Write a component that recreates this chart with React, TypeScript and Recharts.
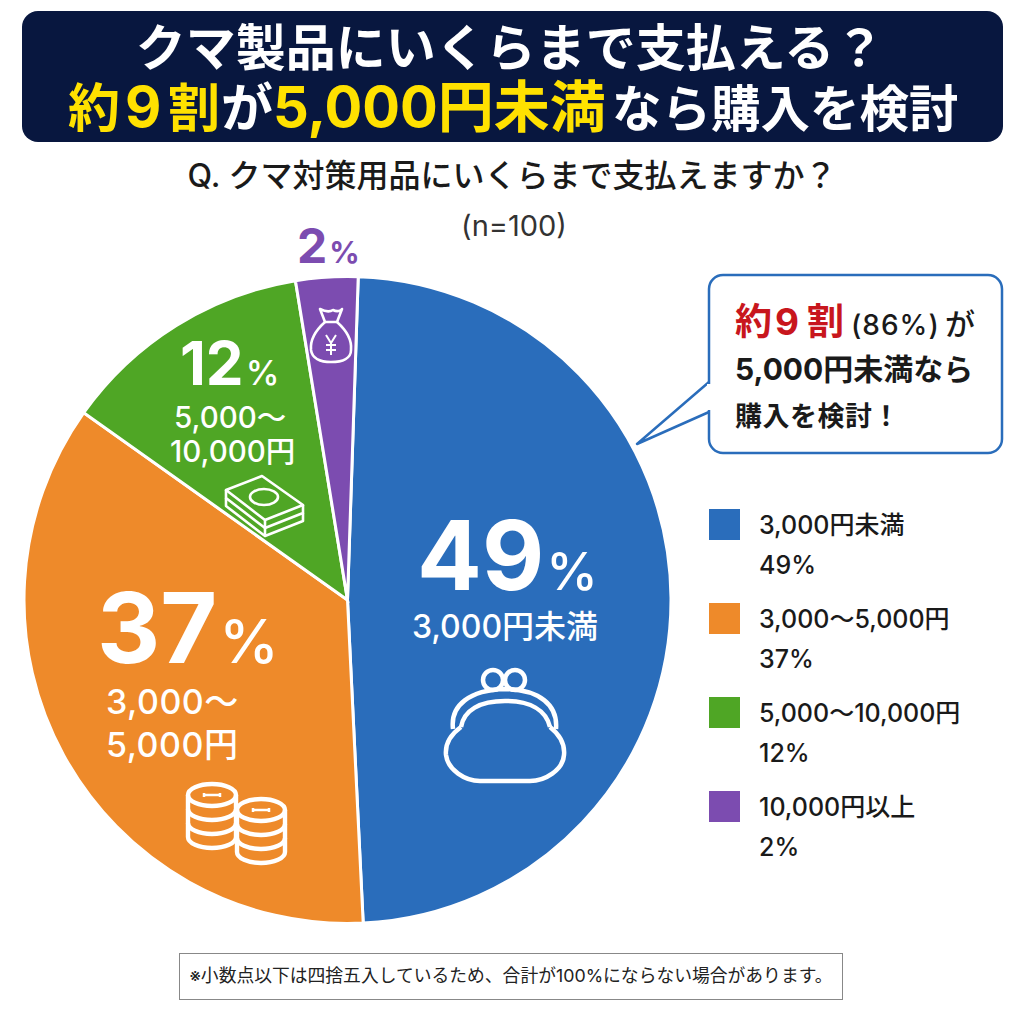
import React from "react";
import { PieChart, Pie, Legend } from "recharts";

const categories = ["3,000円未満", "3,000〜5,000円", "5,000〜10,000円", "10,000円以上"];
// Percentages as printed on the reference.
const values = [49, 37, 12, 2];
// Wedge sizes as measured from the reference: its slices are not drawn exactly to the printed percentages.
const drawnShares = [48.7, 35.6, 12.6, 3.1];
const colors = ["#2a6dbb", "#ee8a2a", "#4fa625", "#7c4cb0"];
const titleLine1 = "クマ製品にいくらまで支払える？";
const question = "Q. クマ対策用品にいくらまで支払えますか？";
const sampleNote = "(n=100)";
const footnote = "※小数点以下は四捨五入しているため、合計が100%にならない場合があります。";

const chartData = categories.map((name, i) => ({ name, value: drawnShares[i], fill: colors[i] }));
const FONT = "Inter, 'Noto Sans CJK JP', sans-serif";
const CJK = "'Noto Sans CJK JP', sans-serif";

function T({ x, y, size, fill = "#fff", weight = 500, anchor = "start", ls = 0, font = FONT, children }: any) {
  return (
    <text x={x} y={y} fontSize={size} fill={fill} fontWeight={weight} textAnchor={anchor} letterSpacing={ls} fontFamily={font}>
      {children}
    </text>
  );
}

function Purse() {
  return (
    <g fill="none" stroke="#fff" strokeWidth={4.5} strokeLinejoin="round">
      <circle cx={493} cy={680} r={10} />
      <circle cx={515} cy={680} r={10} />
      <path d="M453 729 C450 705 470 690 505 689 C540 690 558 705 556 729" />
      <path d="M461 727 C464 710 480 701 505 701 C530 701 546 710 550 727" />
      <path d="M461 727 C450 735 445 745 446 755 C448 770 465 781 480 781 L530 781 C545 781 563 770 564 755 C565 745 560 735 550 727" />
    </g>
  );
}

function Stack({ x, y, w, h, n }: any) {
  const rx = w / 2;
  const ry = 11;
  const parts = [];
  for (let i = 1; i <= n; i++) {
    const yy = y + i * h;
    parts.push(<path key={i} d={`M${x - rx} ${yy} A${rx} ${ry} 0 0 0 ${x + rx} ${yy}`} />);
  }
  return (
    <g fill="none" stroke="#fff" strokeWidth={4.4}>
      <ellipse cx={x} cy={y} rx={rx} ry={ry} />
      <path d={`M${x - rx} ${y} V${y + n * h} M${x + rx} ${y} V${y + n * h}`} />
      {parts}
      <path d={`M${x - 8} ${y} H${x + 8} M${x - 8} ${y - 2} V${y + 2} M${x + 8} ${y - 2} V${y + 2}`} strokeWidth={2.5} />
    </g>
  );
}

function Bills() {
  return (
    <g fill="none" stroke="#fff" strokeWidth={2.6} strokeLinejoin="round">
      <path d="M226 490 L262 476 L303 505 L265 520 Z" />
      <path d="M226 490 V498 L265 528 L303 513 V505" />
      <path d="M226 498 V506 L265 536 L303 521 V513" />
      <path d="M265 520 V536" />
      <ellipse cx={264} cy={497} rx={14} ry={8} />
    </g>
  );
}

function Bag() {
  return (
    <g fill="none" stroke="#fff" strokeWidth={2.6} strokeLinejoin="round">
      <path d="M320 309 C326 312 330 312 333 310 C337 312 341 311 342 309 L337 322 L325 322 Z" />
      <path d="M325 322 C316 330 310 340 311 350 C312 358 320 362 331 362 C343 362 351 358 351 350 C352 340 346 330 337 322" />
      <path d="M326 335 L331 343 L336 335 M331 343 V355 M326 345 H336 M326 350 H336" strokeWidth={2} />
    </g>
  );
}

export default function App() {
  return (
    <div style={{ position: "absolute", left: 0, top: 0, width: 1024, height: 1024, background: "#fff" }}>
      <PieChart width={1024} height={1024} margin={{ top: 0, right: 0, bottom: 0, left: 0 }}>
        <Pie
          data={chartData}
          dataKey="value"
          nameKey="name"
          cx={347.5}
          cy={600}
          outerRadius={323.5}
          startAngle={88.1}
          endAngle={-271.9}
          stroke="#fff"
          strokeWidth={3}
          isAnimationActive={false}
          labelLine={false}
        />
        <Legend
          layout="vertical"
          wrapperStyle={{ position: "absolute", left: 0, top: 0, width: 1024, height: 0 }}
          content={() => (
            <div>
              {categories.map((c, i) => (
                <div key={c} style={{ position: "absolute", left: 709, top: 509 + i * 94, fontFamily: FONT, fontWeight: 500, color: "#1a1a1a", fontSize: 25 }}>
                  <div style={{ position: "absolute", left: 0, top: 0, width: 31, height: 31, background: colors[i] }} />
                  <div style={{ position: "absolute", left: 50, top: -4, whiteSpace: "nowrap", lineHeight: "40px" }}>
                    {c}
                    <br />
                    {values[i]}%
                  </div>
                </div>
              ))}
            </div>
          )}
        />
      </PieChart>
      <svg width={1024} height={1024} style={{ position: "absolute", left: 0, top: 0, pointerEvents: "none" }}>
        <rect x={22} y={11} width={981} height={131} rx={16} fill="#08173f" />
        <T x={510} y={66} size={50} weight={700} anchor="middle" font={CJK}>{titleLine1}</T>
        <text y={127} fontSize={52} fontWeight={700} fontFamily={FONT} fill="#fff">
          <tspan x={68} fill="#ffe100">約</tspan>
          <tspan x={125} fill="#ffe100" fontSize={56}>9</tspan>
          <tspan x={168} fill="#ffe100">割</tspan>
          <tspan x={221}>が</tspan>
          <tspan x={273} fill="#ffe100" fontSize={56}>5,000円未満</tspan>
          <tspan x={612} fontSize={49.5}>なら購入を検討</tspan>
        </text>
        <T x={512} y={187} size={32} fill="#1a1a1a" anchor="middle">{question}</T>
        <T x={514} y={236} size={29} fill="#333" weight={400} anchor="middle">{sampleNote}</T>

        <text x={297} y={263} fontFamily={FONT} fontWeight={700} fill={colors[3]}>
          <tspan fontSize={48}>{values[3]}</tspan>
          <tspan fontSize={30} dx={2}>%</tspan>
        </text>

        <path d="M709 382 L637 444 L709 412" fill="#fff" stroke="#2a6dbb" strokeWidth={2.5} strokeLinejoin="round" />
        <rect x={709} y={275} width={293} height={178} rx={14} fill="#fff" stroke="#2a6dbb" strokeWidth={2.5} />
        <path d="M709 384 V410" stroke="#fff" strokeWidth={4} />
        <text y={335} fontFamily={FONT} fontWeight={700} fontSize={37} fill="#c8161d">
          <tspan x={735}>約</tspan>
          <tspan x={775}>9</tspan>
          <tspan x={807}>割</tspan>
          <tspan x={851} fontSize={28} fontWeight={500} fill="#1a1a1a" letterSpacing={1}>(86%)</tspan>
          <tspan x={945} fontSize={30} fontWeight={500} fill="#1a1a1a">が</tspan>
        </text>
        <T x={735} y={380} size={30} weight={700} fill="#1a1a1a">5,000円未満なら</T>
        <T x={735} y={426} size={27} weight={700} fill="#1a1a1a" ls={0.5}>購入を検討！</T>

        <text x={417} y={590} fontFamily={FONT} fontWeight={700} fill="#fff">
          <tspan fontSize={96}>{values[0]}</tspan>
          <tspan fontSize={52} fontWeight={500} dx={2}>%</tspan>
        </text>
        <T x={505} y={638} size={32} anchor="middle">{categories[0]}</T>
        <Purse />

        <text x={97} y={663} fontFamily={FONT} fontWeight={700} fill="#fff">
          <tspan fontSize={98}>{values[1]}</tspan>
          <tspan fontSize={60} fontWeight={500} dx={2}>%</tspan>
        </text>
        <T x={106} y={714} size={34} ls={0.5}>3,000〜</T>
        <T x={106} y={757} size={34} ls={0.5}>5,000円</T>
        <Stack x={212} y={795} w={48} h={14} n={3} />
        <Stack x={261} y={810} w={48} h={14} n={3} />

        <text x={180} y={385} fontFamily={FONT} fontWeight={700} fill="#fff">
          <tspan fontSize={60}>{values[2]}</tspan>
          <tspan fontSize={34} fontWeight={500} dx={2}>%</tspan>
        </text>
        <T x={174} y={428} size={29.5}>5,000〜</T>
        <T x={170} y={462} size={29.5}>10,000円</T>
        <Bills />
        <Bag />

        <rect x={179.5} y={953.5} width={663} height={46} fill="#fff" stroke="#888" strokeWidth={1} />
        <T x={511} y={982} size={17.8} fill="#222" weight={400} anchor="middle">{footnote}</T>
      </svg>
    </div>
  );
}
